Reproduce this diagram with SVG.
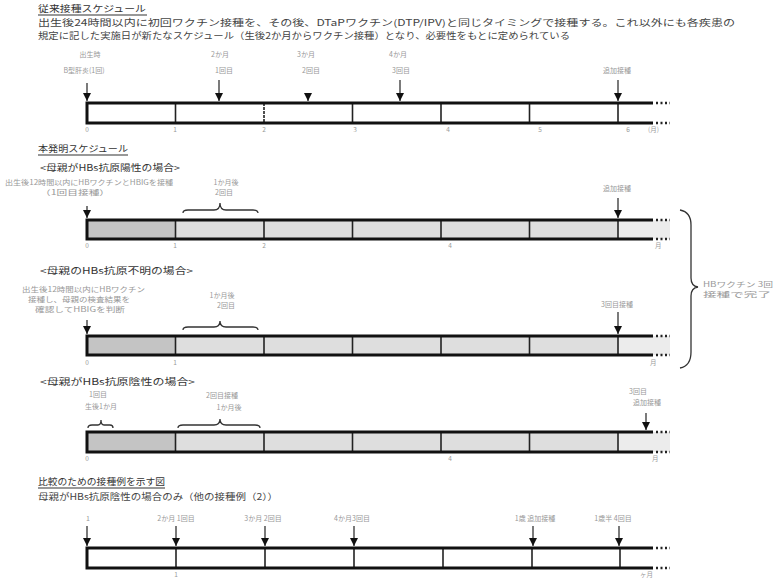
<svg xmlns="http://www.w3.org/2000/svg" width="775" height="578" viewBox="0 0 775 578">
<style>
text{font-family:"Noto Sans CJK JP","Noto Sans",sans-serif;}
.h{font-size:9px;fill:#333;}
.b{font-size:9px;fill:#444;}
.l{font-size:7px;fill:#999;}
.t{font-size:6.5px;fill:#999;}
.ul{stroke:#333;stroke-width:1.2;}
.rail{stroke:#111;stroke-width:3;fill:none;}
.div{stroke:#222;stroke-width:1.6;}
.dots{stroke:#222;stroke-width:2.5;stroke-dasharray:2 2.5;}
.arr{stroke:#222;stroke-width:1.2;marker-end:url(#ah);}
.br{stroke:#333;stroke-width:1.3;fill:none;}
.f1{fill:#c4c4c4;}
.f2{fill:#dedede;}
.f3{fill:#ececec;}
</style>
<defs>
<marker id="ah" viewBox="0 0 10 10" refX="10" refY="5" markerWidth="8" markerHeight="8" markerUnits="userSpaceOnUse" orient="auto">
<path d="M0,0 L10,5 L0,10 Z" fill="#111"/>
</marker>
</defs>
<rect width="775" height="578" fill="#fff"/>

<!-- Section 1 texts -->
<g id="sec1-text">
<text class="h" x="38" y="12" textLength="108" lengthAdjust="spacingAndGlyphs">従来接種スケジュール</text>
<line class="ul" x1="38" y1="15" x2="147" y2="15"/>
<text class="b" x="38" y="26" textLength="697" lengthAdjust="spacingAndGlyphs">出生後24時間以内に初回ワクチン接種を、その後、DTaPワクチン(DTP/IPV)と同じタイミングで接種する。これ以外にも各疾患の</text>
<text class="b" x="38" y="39" textLength="532" lengthAdjust="spacingAndGlyphs">規定に記した実施日が新たなスケジュール（生後2か月からワクチン接種）となり、必要性をもとに定められている</text>
</g>

<!-- Bar 1 -->
<g id="bar1">
<line class="div" x1="175.5" y1="103" x2="175.5" y2="123"/>
<line class="div" x1="264" y1="103" x2="264" y2="123" stroke-dasharray="3 1"/>
<line class="div" x1="352.5" y1="103" x2="352.5" y2="123"/>
<line class="div" x1="441" y1="103" x2="441" y2="123"/>
<line class="div" x1="529.5" y1="103" x2="529.5" y2="123"/>
<line class="div" x1="618" y1="103" x2="618" y2="123"/>
<path class="rail" d="M653,103 H87 V123 H653"/>
<line class="dots" x1="656" y1="103" x2="670" y2="103"/>
<line class="dots" x1="656" y1="123" x2="670" y2="123"/>
<text class="t" x="87" y="132" text-anchor="middle">0</text>
<text class="t" x="175" y="132" text-anchor="middle">1</text>
<text class="t" x="264" y="132" text-anchor="middle">2</text>
<text class="t" x="355" y="132" text-anchor="middle">3</text>
<text class="t" x="448" y="132" text-anchor="middle">4</text>
<text class="t" x="540" y="132" text-anchor="middle">5</text>
<text class="t" x="628" y="132" text-anchor="middle">6</text>
<text class="t" x="648" y="132">(月)</text>
</g>
<g id="bar1-labels">
<text class="l" x="90" y="57" text-anchor="middle">出生時</text>
<text class="l" x="84" y="73" text-anchor="middle">B型肝炎(1回)</text>
<text class="l" x="220" y="57" text-anchor="middle">2か月</text>
<text class="l" x="224" y="73" text-anchor="middle">1回目</text>
<text class="l" x="306" y="57" text-anchor="middle">3か月</text>
<text class="l" x="311" y="73" text-anchor="middle">2回目</text>
<text class="l" x="398" y="57" text-anchor="middle">4か月</text>
<text class="l" x="401" y="73" text-anchor="middle">3回目</text>
<text class="l" x="617" y="73" text-anchor="middle">追加接種</text>
</g>
<g id="connectors">
<line class="arr" x1="87" y1="83" x2="87" y2="101"/>
<line class="arr" x1="219" y1="80" x2="219" y2="101"/>
<line class="arr" x1="308" y1="94" x2="308" y2="101"/>
<line class="arr" x1="400" y1="80" x2="400" y2="101"/>
<line class="arr" x1="618" y1="80" x2="618" y2="101"/>
<line class="arr" x1="87" y1="206" x2="87" y2="218"/>
<line class="arr" x1="618" y1="198" x2="618" y2="218"/>
<line class="arr" x1="87" y1="320" x2="87" y2="334"/>
<line class="arr" x1="618" y1="312" x2="618" y2="334"/>
<line class="arr" x1="646" y1="413" x2="646" y2="430"/>
<line class="arr" x1="87" y1="526" x2="87" y2="546"/>
<line class="arr" x1="176" y1="526" x2="176" y2="546"/>
<line class="arr" x1="265" y1="526" x2="265" y2="546"/>
<line class="arr" x1="354" y1="526" x2="354" y2="546"/>
<line class="arr" x1="533" y1="526" x2="533" y2="546"/>
<line class="arr" x1="619" y1="526" x2="619" y2="546"/>
</g>

<!-- Section 2 -->
<g id="sec2-text">
<text class="h" x="38" y="152" textLength="90" lengthAdjust="spacingAndGlyphs">本発明スケジュール</text>
<line class="ul" x1="38" y1="155" x2="128" y2="155"/>
<text class="h" x="40" y="171" textLength="140" lengthAdjust="spacingAndGlyphs">&lt;母親がHBs抗原陽性の場合&gt;</text>
<text class="l" x="5" y="185" textLength="168" lengthAdjust="spacingAndGlyphs">出生後12時間以内にHBワクチンとHBIGを接種</text>
<text class="l" x="40" y="195" textLength="70" lengthAdjust="spacingAndGlyphs">（1回目接種）</text>
<text class="l" x="226" y="185" text-anchor="middle">1か月後</text>
<text class="l" x="224" y="195" text-anchor="middle">2回目</text>
<text class="l" x="617" y="191" text-anchor="middle">追加接種</text>
</g>
<g id="bar2">
<rect class="f1" x="87" y="220" width="88.5" height="19"/>
<rect class="f2" x="175.5" y="220" width="442.5" height="19"/>
<rect class="f3" x="618" y="220" width="52" height="19"/>
<line class="div" x1="175.5" y1="220" x2="175.5" y2="239"/>
<line class="div" x1="264" y1="220" x2="264" y2="239"/>
<line class="div" x1="352.5" y1="220" x2="352.5" y2="239"/>
<line class="div" x1="441" y1="220" x2="441" y2="239"/>
<line class="div" x1="529.5" y1="220" x2="529.5" y2="239"/>
<line class="div" x1="618" y1="220" x2="618" y2="239"/>
<path class="rail" d="M653,220 H87 V239 H653"/>
<line class="dots" x1="656" y1="220" x2="670" y2="220"/>
<line class="dots" x1="656" y1="239" x2="670" y2="239"/>
<path class="br" d="M183,213 Q183,210 188,210 L214,210 Q220,210 220,203 Q220,210 226,210 L253,210 Q258,210 258,213"/>
<text class="t" x="87" y="248" text-anchor="middle">0</text>
<text class="t" x="175" y="248" text-anchor="middle">1</text>
<text class="t" x="264" y="248" text-anchor="middle">2</text>
<text class="t" x="450" y="248" text-anchor="middle">4</text>
<text class="t" x="655" y="248">月</text>
</g>

<!-- Section 3 -->
<g id="sec3-text">
<text class="h" x="40" y="274" textLength="153" lengthAdjust="spacingAndGlyphs">&lt;母親のHBs抗原不明の場合&gt;</text>
<text class="l" x="22" y="292" textLength="123" lengthAdjust="spacingAndGlyphs">出生後12時間以内にHBワクチン</text>
<text class="l" x="28" y="302" textLength="102" lengthAdjust="spacingAndGlyphs">接種し、母親の検査結果を</text>
<text class="l" x="35" y="312" textLength="90" lengthAdjust="spacingAndGlyphs">確認してHBIGを判断</text>
<text class="l" x="222" y="298" text-anchor="middle">1か月後</text>
<text class="l" x="226" y="308" text-anchor="middle">2回目</text>
<text class="l" x="617" y="307" text-anchor="middle">3回目接種</text>
</g>
<g id="bar3">
<rect class="f1" x="87" y="336" width="88.5" height="19"/>
<rect class="f2" x="175.5" y="336" width="442.5" height="19"/>
<rect class="f3" x="618" y="336" width="52" height="19"/>
<line class="div" x1="175.5" y1="336" x2="175.5" y2="355"/>
<line class="div" x1="264" y1="336" x2="264" y2="355"/>
<line class="div" x1="352.5" y1="336" x2="352.5" y2="355"/>
<line class="div" x1="441" y1="336" x2="441" y2="355"/>
<line class="div" x1="529.5" y1="336" x2="529.5" y2="355"/>
<line class="div" x1="618" y1="336" x2="618" y2="355"/>
<path class="rail" d="M653,336 H87 V355 H653"/>
<line class="dots" x1="656" y1="336" x2="670" y2="336"/>
<line class="dots" x1="656" y1="355" x2="670" y2="355"/>
<path class="br" d="M183,330 Q183,327 188,327 L214,327 Q220,327 220,321 Q220,327 226,327 L253,327 Q258,327 258,330"/>
<text class="t" x="87" y="365" text-anchor="middle">0</text>
<text class="t" x="175" y="365" text-anchor="middle">1</text>
<text class="t" x="650" y="365">月</text>
</g>

<!-- Right brace -->
<g id="brace-right">
<path class="br" d="M680,210 Q691,212 691,225 L691,278 Q691,286 698,287 Q691,288 691,296 L691,352 Q691,366 680,368"/>
<text class="l" x="703" y="287" textLength="70" lengthAdjust="spacingAndGlyphs">HBワクチン 3回</text>
<text class="l" x="703" y="297" textLength="68" lengthAdjust="spacingAndGlyphs">接種で完了</text>
</g>

<!-- Section 4 -->
<g id="sec4-text">
<text class="h" x="40" y="385" textLength="155" lengthAdjust="spacingAndGlyphs">&lt;母親がHBs抗原陰性の場合&gt;</text>
<text class="l" x="98" y="397" text-anchor="middle">1回目</text>
<text class="l" x="101" y="409" text-anchor="middle">生後1か月</text>
<text class="l" x="222" y="398" text-anchor="middle">2回目接種</text>
<text class="l" x="229" y="410" text-anchor="middle">1か月後</text>
<text class="l" x="638" y="394" text-anchor="middle">3回目</text>
<text class="l" x="647" y="405" text-anchor="middle">追加接種</text>
</g>
<g id="bar4">
<rect class="f1" x="87" y="432" width="88.5" height="20"/>
<rect class="f2" x="175.5" y="432" width="442.5" height="20"/>
<rect class="f3" x="618" y="432" width="52" height="20"/>
<line class="div" x1="175.5" y1="432" x2="175.5" y2="452"/>
<line class="div" x1="264" y1="432" x2="264" y2="452"/>
<line class="div" x1="352.5" y1="432" x2="352.5" y2="452"/>
<line class="div" x1="441" y1="432" x2="441" y2="452"/>
<line class="div" x1="529.5" y1="432" x2="529.5" y2="452"/>
<line class="div" x1="618" y1="432" x2="618" y2="452"/>
<path class="rail" d="M653,432 H87 V452 H653"/>
<line class="dots" x1="656" y1="432" x2="670" y2="432"/>
<line class="dots" x1="656" y1="452" x2="670" y2="452"/>
<path class="br" d="M88,428 Q88,425 92,425 L98,425 Q101,425 101,420 Q101,425 104,425 L110,425 Q113,425 113,428"/>
<path class="br" d="M178,428 Q178,425 183,425 L214,425 Q220,425 220,419 Q220,425 226,425 L255,425 Q260,425 260,428"/>
<text class="t" x="87" y="461" text-anchor="middle">0</text>
<text class="t" x="450" y="461" text-anchor="middle">4</text>
<text class="t" x="652" y="461">月</text>
</g>

<!-- Section 5 -->
<g id="sec5-text">
<text class="h" x="38" y="485" textLength="127" lengthAdjust="spacingAndGlyphs">比較のための接種例を示す図</text>
<line class="ul" x1="38" y1="488" x2="165" y2="488"/>
<text class="b" x="38" y="500" textLength="240" lengthAdjust="spacingAndGlyphs">母親がHBs抗原陰性の場合のみ（他の接種例（2））</text>
<text class="l" x="88" y="521" text-anchor="middle">1</text>
<text class="l" x="176" y="521" text-anchor="middle">2か月 1回目</text>
<text class="l" x="263" y="521" text-anchor="middle">3か月 2回目</text>
<text class="l" x="352" y="521" text-anchor="middle">4か月3回目</text>
<text class="l" x="535" y="521" text-anchor="middle">1歳 追加接種</text>
<text class="l" x="613" y="521" text-anchor="middle">1歳半 4回目</text>
</g>
<g id="bar5">
<line class="div" x1="176" y1="548" x2="176" y2="568"/>
<line class="div" x1="265" y1="548" x2="265" y2="568"/>
<line class="div" x1="354" y1="548" x2="354" y2="568"/>
<line class="div" x1="443" y1="548" x2="443" y2="568"/>
<line class="div" x1="532" y1="548" x2="532" y2="568"/>
<line class="div" x1="620" y1="548" x2="620" y2="568"/>
<path class="rail" d="M653,548 H87 V568 H653"/>
<line class="dots" x1="656" y1="548" x2="670" y2="548"/>
<line class="dots" x1="656" y1="568" x2="670" y2="568"/>
<text class="t" x="176" y="577" text-anchor="middle">1</text>
<text class="t" x="640" y="577">ヶ月</text>
</g>
</svg>
